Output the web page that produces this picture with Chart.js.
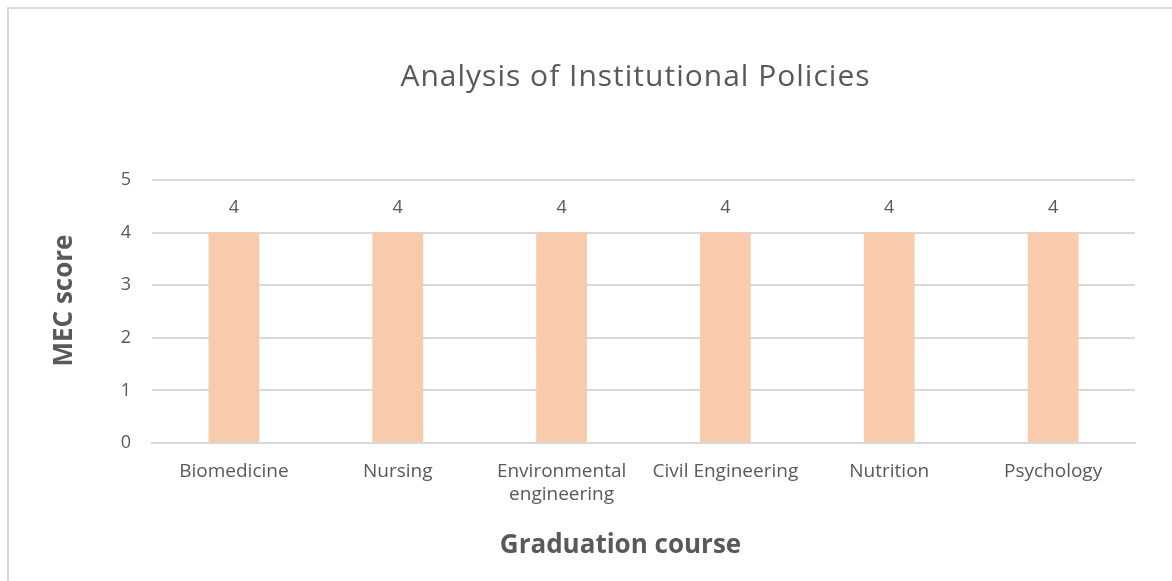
<!DOCTYPE html>
<html>
<head>
<meta charset="utf-8">
<script src="https://cdn.jsdelivr.net/npm/chart.js@4"></script>
<style>
    html, body { margin: 0; padding: 0; background: #fff; overflow: hidden; }
    #frame {
        position: absolute; left: 7px; top: 7px; width: 1180px; height: 590px;
        border: 2px solid #d9d9d9; box-sizing: border-box;
    }
    #wrap { position: absolute; left: 0; top: 0; width: 1172px; height: 581px; }
</style>
</head>
<body>
<div id="frame"></div>
<div id="wrap"><canvas id="chartMec"></canvas></div>
<script>
// Chart data
const courses = ["Biomedicine", "Nursing", ["Environmental", "engineering"], "Civil Engineering", "Nutrition", "Psychology"];
const mecScores = [4, 4, 4, 4, 4, 4];
const yTicks = [0, 1, 2, 3, 4, 5];

const chartTitle = "Analysis of Institutional Policies";
const xTitle = "Graduation course";
const yTitle = "MEC score";

const textGray = "#595959";
const fontFamily = "'Open Sans', sans-serif";

// value labels above the bars + titles placed the way Excel puts them
const annotations = {
    id: "annotations",
    afterDatasetsDraw(chart) {
        const { ctx, chartArea } = chart;
        const meta = chart.getDatasetMeta(0);
        const midX = (chartArea.left + chartArea.right) / 2;
        const midY = (chartArea.top + chartArea.bottom) / 2;
        ctx.save();
        ctx.fillStyle = textGray;
        ctx.textAlign = "center";
        ctx.textBaseline = "middle";

        ctx.font = "18px " + fontFamily;
        meta.data.forEach((bar, i) => {
            ctx.fillText(String(mecScores[i]), bar.x, bar.y - 25);
        });

        ctx.font = "30px " + fontFamily;
        ctx.letterSpacing = "1px";
        ctx.fillText(chartTitle, midX - 8, 77);
        ctx.letterSpacing = "0px";

        ctx.font = "bold 26px " + fontFamily;
        ctx.fillText(xTitle, midX - 23, 546);

        ctx.translate(65, midY - 11);
        ctx.rotate(-Math.PI / 2);
        ctx.fillText(yTitle, 0, 0);
        ctx.restore();
    }
};

new Chart(document.getElementById("chartMec"), {
    type: "bar",
    data: {
        labels: courses,
        datasets: [{
            data: mecScores,
            backgroundColor: "#F8CBAD",
            borderWidth: 0,
            barPercentage: 0.62,
            categoryPercentage: 0.5
        }]
    },
    options: {
        responsive: true,
        maintainAspectRatio: false,
        animation: false,
        layout: { padding: { left: 0, right: 37, top: 180, bottom: 0 } },
        plugins: {
            legend: { display: false },
            tooltip: { enabled: false },
            title: { display: false }
        },
        scales: {
            x: {
                grid: { display: false, drawTicks: false },
                border: { color: "#d9d9d9", width: 2 },
                ticks: {
                    color: textGray,
                    font: { family: fontFamily, size: 19, lineHeight: 1.2 },
                    padding: 17,
                    maxRotation: 0,
                    autoSkip: false
                },
                afterFit(scale) { scale.height = 138; }
            },
            y: {
                min: 0,
                max: 5,
                afterBuildTicks(scale) { scale.ticks = yTicks.map(v => ({ value: v })); },
                grid: { color: "#d9d9d9", lineWidth: 2, drawTicks: false },
                border: { display: false },
                ticks: {
                    color: textGray,
                    font: { family: fontFamily, size: 18 },
                    padding: 21
                },
                afterFit(scale) { scale.width = 152; }
            }
        }
    },
    plugins: [annotations]
});
</script>
</body>
</html>
